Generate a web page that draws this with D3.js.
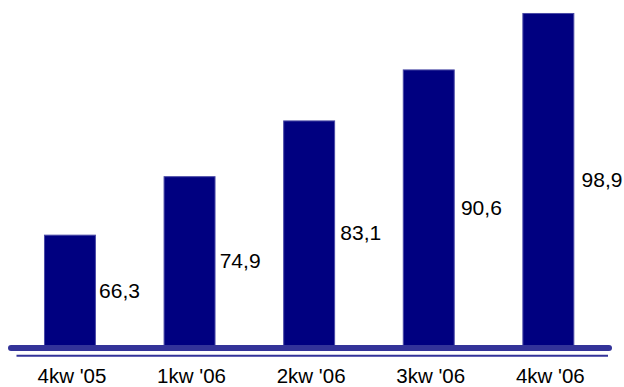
<!DOCTYPE html>
<html>
<head>
<meta charset="utf-8">
<script src="https://cdn.jsdelivr.net/npm/d3@7"></script>
<style>
  html, body { margin: 0; padding: 0; background: #fff; }
  svg { display: block; }
  text { font-family: Arial, "Liberation Sans", sans-serif; fill: #000; }
</style>
</head>
<body>
<svg id="chart" width="624" height="387"></svg>
<script>
const categories = ["4kw '05", "1kw '06", "2kw '06", "3kw '06", "4kw '06"];
const values = [66.3, 74.9, 83.1, 90.6, 98.9];
const valueLabels = ["66,3", "74,9", "83,1", "90,6", "98,9"];

const svg = d3.select("#chart");

const x = d3.scaleBand()
  .domain(categories)
  .range([8.6, 609.7])
  .paddingInner(0.574)
  .paddingOuter(0.3);

const y = d3.scaleLinear().domain([50, 100]).range([346, 6]);

const labelX = d3.scalePoint().domain(categories).range([119.5, 602]);

// bars
svg.append("g").selectAll("rect")
  .data(values)
  .join("rect")
  .attr("x", (d, i) => x(categories[i]))
  .attr("y", d => y(d))
  .attr("width", x.bandwidth())
  .attr("height", d => y(50) - y(d) + 2)
  .attr("fill", "#000080")
  .attr("stroke", "#4a4aa6")
  .attr("stroke-width", 1);

// baseline lines
svg.append("line")
  .attr("x1", 11).attr("x2", 609)
  .attr("y1", 348).attr("y2", 348)
  .attr("stroke", "#333399")
  .attr("stroke-width", 6)
  .attr("stroke-linecap", "round");

svg.append("line")
  .attr("x1", 16.5).attr("x2", 608)
  .attr("y1", 355.8).attr("y2", 355.8)
  .attr("stroke", "#333399")
  .attr("stroke-width", 2);

// value labels
svg.append("g").selectAll("text")
  .data(values)
  .join("text")
  .attr("x", (d, i) => labelX(categories[i]))
  .attr("y", d => (y(d) + y(50)) / 2 + 7)
  .attr("text-anchor", "middle")
  .attr("font-size", 21)
  .text((d, i) => valueLabels[i]);

// category labels
svg.append("g").selectAll("text")
  .data(categories)
  .join("text")
  .attr("x", d => x(d) + x.bandwidth() / 2 + 2)
  .attr("y", 382.5)
  .attr("text-anchor", "middle")
  .attr("font-size", 20.5)
  .text(d => d);
</script>
</body>
</html>
